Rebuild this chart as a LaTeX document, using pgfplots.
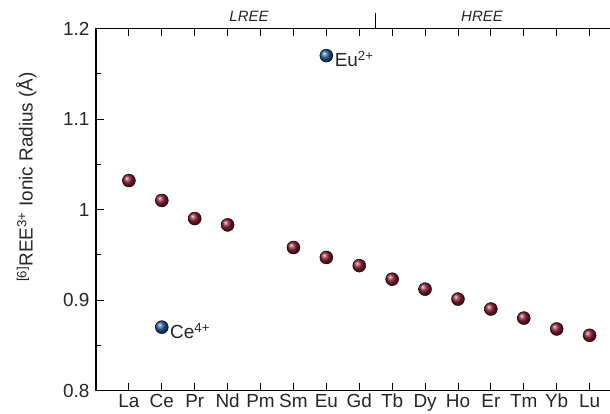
\documentclass[border=0pt]{standalone}
\usepackage{pgfplots}
\pgfplotsset{compat=1.18}
\usepackage{fontspec}
\setmainfont{Liberation Sans}
\definecolor{ree}{HTML}{8A1A30}
\definecolor{blu}{HTML}{1E5A9C}
\newcommand{\lblfont}{\fontsize{19}{22}\selectfont}
\begin{document}
\begin{tikzpicture}
\begin{axis}[name=ax,
  scale only axis, width=514bp, height=362bp,
  xmin=0, xmax=15.62, ymin=0.8, ymax=1.2,
  axis line style={draw=none},
  clip=false,
  tick align=inside, major tick length=8bp, minor tick length=5bp,
  xtick={1,...,15}, xticklabels={La,Ce,Pr,Nd,Pm,Sm,Eu,Gd,Tb,Dy,Ho,Er,Tm,Yb,Lu},
  xtick pos=both,
  ytick={0.8,0.9,1,1.1,1.2}, yticklabels={0.8,0.9,1,1.1,1.2},
  minor ytick={0.85,0.95,1.05,1.15},
  ytick pos=left,
  tick style={black, line width=0.9bp},
  xticklabel style={font=\lblfont, text=black!85, yshift=0bp},
  yticklabel style={font=\lblfont, text=black!85, xshift=-3bp},
  /pgf/number format/assume math mode=true,
  ylabel={\textsuperscript{[6]}REE\textsuperscript{3+} Ionic Radius (Å)},
  ylabel style={font=\lblfont, at={(axis description cs:0,0.59)}, anchor=south, yshift=56bp, text=black!85},
]
\addplot[only marks, mark=ball, mark size=6.5bp, mark options={ball color=ree}] coordinates {
(1,1.032) (2,1.010) (3,0.990) (4,0.983) (6,0.958) (7,0.947) (8,0.938)
(9,0.923) (10,0.912) (11,0.901) (12,0.890) (13,0.880) (14,0.868) (15,0.861)
};
\addplot[only marks, mark=ball, mark size=6.5bp, mark options={ball color=blu}] coordinates {
(7,1.170) (2,0.870)
};
\node[anchor=west, font=\lblfont, text=black!85, inner sep=0pt] at (axis cs:7.25,1.166) {Eu\textsuperscript{2+}};
\node[anchor=west, font=\lblfont, text=black!85, inner sep=0pt] at (axis cs:2.25,0.866) {Ce\textsuperscript{4+}};
\draw[black, line width=1.1bp] (rel axis cs:1,0) -- (rel axis cs:0,0) -- (rel axis cs:0,1) -- (rel axis cs:1,1);
\draw[black, line width=0.9bp] (axis cs:8.5,1.2) -- ([yshift=15bp]axis cs:8.5,1.2);
\node[font=\itshape\fontsize{15}{17}\selectfont, text=black!85, anchor=base] at ([yshift=7bp]axis cs:4.65,1.2) {LREE};
\node[font=\itshape\fontsize{15}{17}\selectfont, text=black!85, anchor=base] at ([yshift=7bp]axis cs:11.73,1.2) {HREE};
\end{axis}
\pgfresetboundingbox
\path[use as bounding box] ([xshift=-96bp,yshift=-23.5bp]ax.south west) rectangle ([yshift=28.5bp]ax.north east);
\end{tikzpicture}
\end{document}
